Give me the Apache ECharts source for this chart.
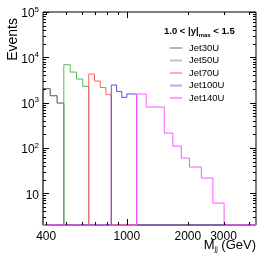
<!DOCTYPE html>
<html><head><meta charset="utf-8">
<script src="https://cdn.jsdelivr.net/npm/echarts@6/dist/echarts.min.js"></script>
<style>html,body{margin:0;padding:0;background:#fff}#c{width:270px;height:259px}</style>
</head><body><div id="c"></div>
<script>
// ---- data ----
const X_MIN = 386, X_MAX = 4337, Y_MIN = 2, Y_MAX = 100000;
const seriesNames = ['Jet30U', 'Jet50U', 'Jet70U', 'Jet100U', 'Jet140U'];
const jet30Edges = [386, 419, 453, 489];
const jet30Values = [2030, 1420, 980];
const jet50Edges = [489, 526, 565, 606, 649];
const jet50Values = [6870, 4730, 3320, 2290];
const jet70Edges = [649, 693, 740, 788, 838];
const jet70Values = [4280, 3000, 2150, 1500];
const jet100Edges = [838, 890, 944, 1000, 1058, 1118];
const jet100Values = [2450, 1770, 1310, 1560, 1540];
const jet140Edges = [1118, 1246, 1530, 1687, 1856, 2037, 2332, 2659, 3019];
const jet140Values = [1550, 800, 213, 110, 60, 38, 21.7, 6.1];
const xMajorTicks = [1000];
const xMinorTicks = [400, 500, 600, 700, 800, 900, 2000, 3000, 4000];
const xTickLabels = [400, 1000, 2000, 3000];
const yMajorTicks = [10, 100, 1000, 10000, 100000];
const yTickLabels = [10, 100, 1000, 10000, 100000];
const legendHeader = '1.0 < |y|';
const legendHeaderSub = 'max';
const legendHeaderTail = ' < 1.5';
const yTitle = 'Events';

// ---- styles ----
const lineColors = ['#505050', '#55b855', '#ff6060', '#5555e0', '#ff55ff'];
const legendColors = ['#b4b4b4', '#a4dca4', '#ffacac', '#acacff', '#ffa0ff'];
const FONT = 'Liberation Sans, Arial, Helvetica, sans-serif';

const yMinorTicks = [];
for (let k = 0; k <= 4; k++) for (let m = 2; m <= 9; m++) {
  const v = m * Math.pow(10, k);
  if (v > Y_MIN && v < Y_MAX) yMinorTicks.push(v);
}

function histPoints(edges, values) {
  const pts = [];
  if (edges[0] > X_MIN) pts.push([X_MIN, Y_MIN]);
  pts.push([edges[0], Y_MIN]);
  for (let i = 0; i < values.length; i++) {
    pts.push([edges[i], values[i]]);
    pts.push([edges[i + 1], values[i]]);
  }
  const last = edges[edges.length - 1];
  pts.push([last, Y_MIN]);
  if (last < X_MAX) pts.push([X_MAX, Y_MIN]);
  return pts;
}
const hists = [
  [jet30Edges, jet30Values], [jet50Edges, jet50Values], [jet70Edges, jet70Values],
  [jet100Edges, jet100Values], [jet140Edges, jet140Values]
];

// tick/label items: [x, y, kind, index]
const tickData = [];
xMajorTicks.forEach(v => tickData.push([v, Y_MIN, 0, 0]));
xMinorTicks.forEach(v => tickData.push([v, Y_MIN, 1, 0]));
yMajorTicks.forEach(v => tickData.push([X_MIN, v, 2, 0]));
yMinorTicks.forEach(v => tickData.push([X_MIN, v, 3, 0]));
xTickLabels.forEach((v, i) => tickData.push([v, Y_MIN, 4, i]));
yTickLabels.forEach((v, i) => tickData.push([X_MIN, v, 5, i]));

function renderTick(params, api) {
  const cs = params.coordSys;
  const kind = api.value(2);
  const idx = api.value(3);
  const p = api.coord([api.value(0), api.value(1)]);
  const ls = { stroke: '#000', lineWidth: 1 };
  const bottom = cs.y + cs.height, right = cs.x + cs.width;
  if (kind === 0 || kind === 1) {
    const len = kind === 0 ? 6 : 3;
    const x = Math.round(p[0]) + 0.5;
    return { type: 'group', children: [
      { type: 'line', shape: { x1: x, y1: bottom, x2: x, y2: bottom - len }, style: ls },
      { type: 'line', shape: { x1: x, y1: cs.y, x2: x, y2: cs.y + len }, style: ls }
    ]};
  }
  if (kind === 2 || kind === 3) {
    const len = kind === 2 ? 6 : 3;
    const y = Math.round(p[1]) + 0.5;
    return { type: 'group', children: [
      { type: 'line', shape: { x1: cs.x, y1: y, x2: cs.x + len, y2: y }, style: ls },
      { type: 'line', shape: { x1: right, y1: y, x2: right - len, y2: y }, style: ls }
    ]};
  }
  if (kind === 4) {
    return { type: 'text', x: p[0], y: bottom + 6, style: {
      text: String(xTickLabels[idx]), align: 'center', verticalAlign: 'top',
      font: '12px ' + FONT, fill: '#000' } };
  }
  const v = yTickLabels[idx];
  const e = Math.round(Math.log10(v));
  const txt = e === 1 ? '{b|10}' : '{b|10}{s|' + e + '}';
  return { type: 'text', x: cs.x - 4, y: p[1] + 2, style: {
    text: txt, align: 'right', verticalAlign: 'middle',
    rich: { b: { fontSize: 12, fontFamily: FONT, fill: '#000' },
            s: { fontSize: 8, fontFamily: FONT, fill: '#000', padding: [0, 0, 9, 0] } } } };
}

const series = hists.map((h, i) => ({
  name: seriesNames[i], type: 'line', data: histPoints(h[0], h[1]),
  showSymbol: false, symbol: 'none', clip: false, animation: false,
  lineStyle: { color: lineColors[i], width: 1 }, itemStyle: { color: lineColors[i] }
}));
series.push({
  name: 'ticks', type: 'custom', renderItem: renderTick, data: tickData,
  encode: { x: 0, y: 1 }, silent: true, clip: false, animation: false, z: 10
});

const chart = echarts.init(document.getElementById('c'), null, { renderer: 'canvas' });
chart.setOption({
  animation: false,
  backgroundColor: '#fff',
  grid: { left: 43, top: 12, right: 14, bottom: 34, show: true, borderColor: '#000', borderWidth: 1, backgroundColor: 'transparent' },
  xAxis: { type: 'log', min: X_MIN, max: X_MAX, show: false, splitLine: { show: false } },
  yAxis: { type: 'log', min: Y_MIN, max: Y_MAX, show: false, splitLine: { show: false } },
  legend: {
    orient: 'vertical', left: 165, top: 38, icon: 'rect', itemWidth: 12, itemHeight: 2, itemGap: 2.5,
    textStyle: { fontSize: 9.5, fontFamily: FONT, color: '#000', padding: [0, 0, 0, 2] },
    data: seriesNames.map((n, i) => ({ name: n, itemStyle: { color: legendColors[i] } }))
  },
  graphic: [
    { type: 'text', x: 164, y: 31, style: {
      text: '{b|' + legendHeader + '}{s|' + legendHeaderSub + '}{b|' + legendHeaderTail + '}',
      verticalAlign: 'middle',
      rich: { b: { fontSize: 9.5, fontWeight: 'bold', fontFamily: FONT, fill: '#000' },
              s: { fontSize: 6, fontWeight: 'bold', fontFamily: FONT, fill: '#000', padding: [8, 0, 0, 0] } } } },
    { type: 'text', x: 13, y: 18, rotation: Math.PI / 2, style: {
      text: yTitle, align: 'right', verticalAlign: 'middle', font: '14px ' + FONT, fill: '#000' } },
    { type: 'text', x: 256, y: 245, style: {
      text: '{b|M}{s|jj}{b| (GeV)}', align: 'right', verticalAlign: 'middle',
      rich: { b: { fontSize: 13, fontFamily: FONT, fill: '#000' },
              s: { fontSize: 7, fontFamily: FONT, fill: '#000', padding: [9, 0, 0, 0] } } } }
  ],
  series: series
});
</script></body></html>
